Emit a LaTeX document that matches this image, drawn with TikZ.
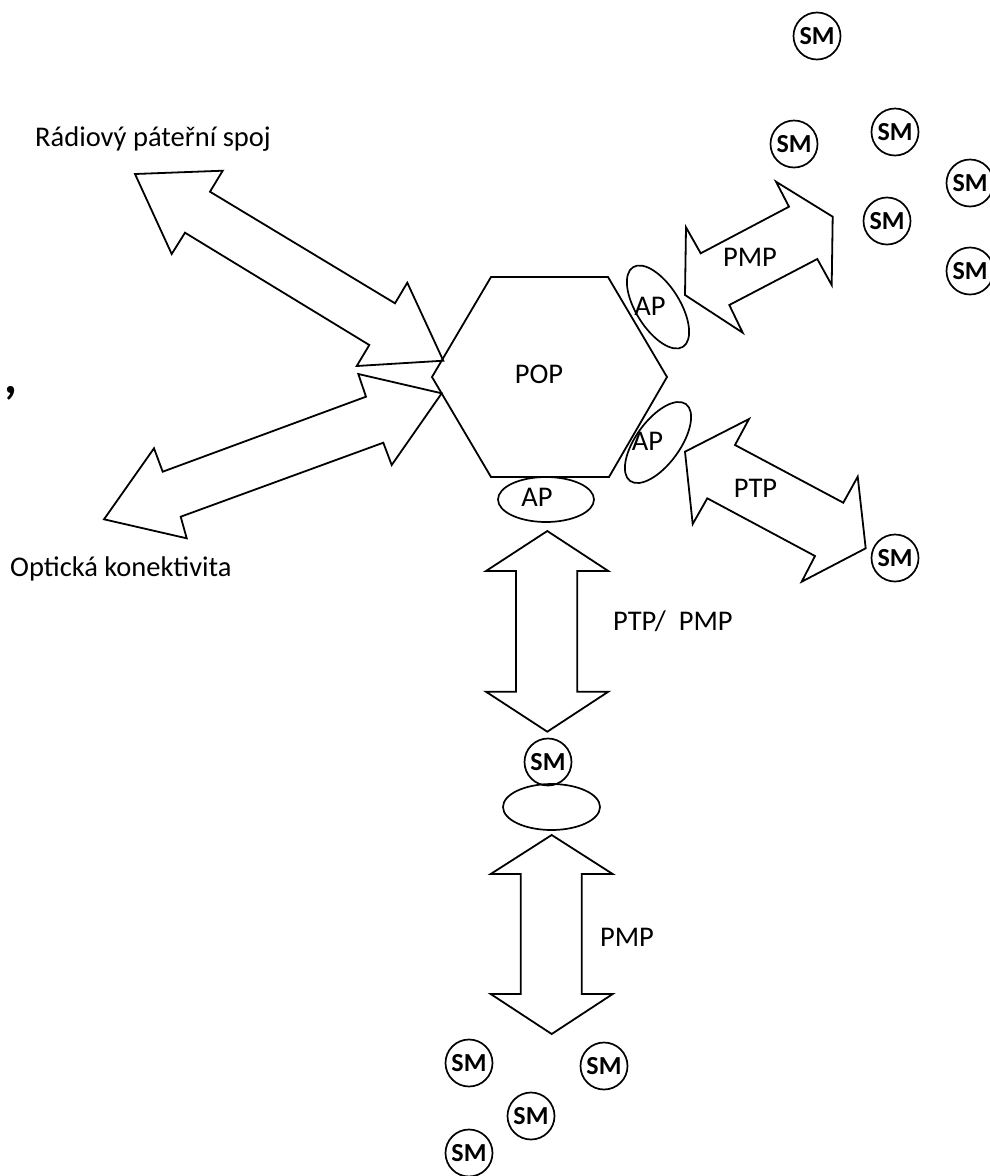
\documentclass[tikz,border=0pt]{standalone}
\usepackage{fontspec}
\setmainfont{Carlito}
\usetikzlibrary{shapes.geometric}
\tikzset{
  ln/.style={draw=black, line width=1.8pt, line join=miter},
  lbl/.style={font=\fontsize{28.5}{30}\selectfont, inner sep=0pt},
  sm/.style={circle, draw=black, line width=1.7pt, minimum size=47pt, inner sep=0pt, font=\bfseries\fontsize{26}{26}\selectfont},
  apell/.style={ellipse, draw=black, line width=1.7pt, minimum width=94pt, minimum height=44pt, inner sep=0pt}
}
\begin{document}
\begin{tikzpicture}[x=1pt,y=-1pt]
\useasboundingbox (0,0) rectangle (989,1176);
\fill[white] (0,0) rectangle (989,1176);

% radio backbone arrow
\draw[ln] (135,174) -- (222.7,170.7) -- (210,191.7) -- (395,303.3) -- (407.3,282.7) -- (443.3,360.7)
  -- (356.7,366) -- (369.3,345) -- (185,232.7) -- (171.7,254) -- cycle;
% optical arrow
\draw[ln] (441.7,393.3) -- (358.3,374) -- (366,396.7) -- (162.7,471.7) -- (154,448.3) -- (104,519.3)
  -- (186.7,538.3) -- (180.7,516.7) -- (383.3,442.7) -- (391.7,465) -- cycle;
% PMP arrow (upper right)
\draw[ln] (685,295) -- (686,227.3) -- (700.7,253.3) -- (789,206.7) -- (776,181.7) -- (832.7,216.7)
  -- (831.7,285) -- (817.3,259) -- (729.3,305) -- (742.7,332.7) -- cycle;
% PTP arrow (right)
\draw[ln] (685,451.7) -- (749,419) -- (735,445) -- (843.3,502.7) -- (857.7,476.7) -- (865.7,548.3)
  -- (801.7,581.7) -- (815,556) -- (707.3,498.3) -- (692.7,524) -- cycle;
% vertical PTP/PMP arrow
\draw[ln] (547.3,531) -- (608.3,571) -- (577.3,571) -- (577.3,691.7) -- (608.3,691.7) -- (547.3,731.7)
  -- (486,691.7) -- (516,691.7) -- (516,571) -- (486,571) -- cycle;
% lower PMP arrow
\draw[ln] (551.7,835) -- (612.7,874) -- (581.7,874) -- (581.7,994) -- (612.7,994) -- (551.7,1034)
  -- (490.7,994) -- (520.7,994) -- (520.7,874) -- (490.7,874) -- cycle;

% POP hexagon
\draw[ln] (491,277) -- (608,277) -- (667,377) -- (609,477) -- (491,477) -- (432,377) -- cycle;
\node[lbl] (pop) at (539,374.5) {POP};

% AP ellipses
\node[apell, minimum width=94pt, minimum height=44pt, rotate=-58] (ap1) at (658,307) {};
\node[lbl] (ap1t) at (650,306) {AP};
\node[apell, minimum width=95pt, minimum height=44pt, rotate=54] (ap2) at (658,442.5) {};
\node[lbl] (ap2t) at (647.5,441) {AP};
\node[apell, minimum width=96pt, minimum height=45pt] (ap3) at (546,499.5) {};
\node[lbl] (ap3t) at (537,497.5) {AP};
\node[apell, minimum width=97pt, minimum height=46pt] (e4) at (551.5,807) {};

% labels
\node[lbl, anchor=base west] (radio) at (35,146) {Rádiový páteřní spoj};
\node[lbl, anchor=base west] (opt) at (10,576) {Optická konektivita};
\node[lbl] (pmp1) at (750,257) {PMP};
\node[lbl] (ptp1) at (755.5,488.5) {PTP};
\node[lbl, anchor=base west] (ptppmp) at (613,630) {PTP/~~PMP};
\node[lbl] (pmp2) at (627,937) {PMP};
\node[inner sep=0pt, anchor=base west, font=\bfseries\fontsize{50}{50}\selectfont] (comma) at (4,393) {,};

% SM stations
\node[sm] (s1) at (817,36) {SM};
\node[sm] (s2) at (794,144) {SM};
\node[sm] (s3) at (895,132) {SM};
\node[sm] (s4) at (970,183) {SM};
\node[sm] (s5) at (887,221) {SM};
\node[sm] (s6) at (970,271) {SM};
\node[sm] (s7) at (895,558) {SM};
\node[sm] (s8) at (548,762) {SM};
\node[sm] (s9) at (469,1063) {SM};
\node[sm] (s10) at (604,1066) {SM};
\node[sm] (s11) at (531,1116) {SM};
\node[sm] (s12) at (469,1153) {SM};
\end{tikzpicture}
\end{document}
